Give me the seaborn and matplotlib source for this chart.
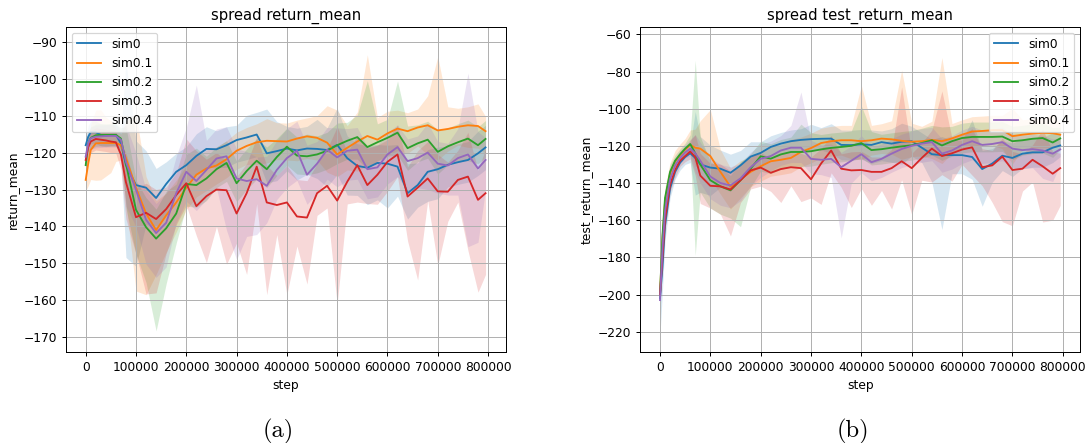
import matplotlib
matplotlib.use("Agg")
import matplotlib.pyplot as plt
import pandas as pd
import seaborn as sns

# ---------------- data ----------------
steps = [0, 5000, 10000, 20000, 30000, 40000, 50000, 60000, 70000, 80000,
         100000, 120000, 140000, 160000, 180000, 200000, 220000, 240000, 260000, 280000,
         300000, 320000, 340000, 360000, 380000, 400000, 420000, 440000, 460000, 480000,
         500000, 520000, 540000, 560000, 580000, 600000, 620000, 640000, 660000, 680000,
         700000, 720000, 740000, 760000, 780000, 795000]

sims = ["sim0", "sim0.1", "sim0.2", "sim0.3", "sim0.4"]

# panel (a): return_mean  (mean curve, band distance below, band distance above)
a_sim0 = [-118, -115.7, -114.5, -114.5, -115.2, -115.4, -115.2, -115.2, -117.5, -123.4,
          -128.8, -129.5, -132.3, -128.5, -125.2, -123.4, -120.9, -119, -119.1, -118,
          -116.6, -115.9, -115.1, -120.2, -119.6, -118.9, -119.4, -118.9, -119, -119.3,
          -117.9, -121.5, -123.6, -124.1, -122.8, -123, -123.8, -131, -128.8, -125.2,
          -124.5, -123.3, -122.6, -122, -120.2, -118.6]
a_sim1 = [-127.4, -123, -119.3, -117.5, -117.4, -117.4, -117.4, -117.4, -118, -121.5,
          -129.5, -136.5, -141, -137, -133.5, -129.5, -126, -124.3, -123.5, -121.8,
          -119.5, -118.2, -117.2, -116.8, -116.9, -117, -116.2, -115.6, -116, -117.3,
          -120.5, -118.7, -117, -115.5, -116.5, -114.8, -113.5, -114.2, -113.2, -112.6,
          -114, -113.6, -113, -112.6, -112.8, -114.2]
a_sim2 = [-123.4, -117.5, -116, -115.3, -115.2, -115.2, -115.2, -115.2, -116.2, -123,
          -135.5, -140.2, -143.3, -140.5, -136.5, -128.5, -128.8, -127, -124.5, -122.8,
          -128.3, -125, -122.2, -124.5, -121.2, -118.4, -120.8, -121, -120.5, -119.5,
          -118, -116.8, -115.8, -118.5, -117.2, -116, -114.6, -118.8, -117.5, -116.5,
          -119.8, -118.3, -117.2, -116.2, -118, -116.3]
a_sim3 = [-122, -118.5, -117, -116.3, -116.5, -116.7, -117, -117.2, -120.5, -128,
          -137.5, -136.3, -138, -135.3, -131.5, -128.3, -134.5, -131.8, -130, -130.2,
          -136.5, -131, -123.8, -133.5, -134.2, -133.5, -137.3, -137.6, -131, -129,
          -133, -127.9, -123.4, -128.8, -126, -122.5, -120.5, -131.9, -129.5, -127,
          -130.5, -130.6, -127.4, -126.5, -132.8, -131]
a_sim4 = [-121.1, -117.5, -116.1, -115.7, -115.6, -115.5, -115.5, -115.5, -116.5, -122.5,
          -130.1, -138.2, -141.8, -139, -131, -125.2, -127.7, -124.7, -121.6, -121,
          -127, -127.7, -127.2, -129, -124.7, -121.5, -119.5, -126, -123, -119.2,
          -121.3, -119.5, -119.2, -124.5, -124, -120.5, -118.5, -122.3, -121.5, -120,
          -123, -123.5, -121.5, -120.5, -124.3, -122]

a0_lo = [2, 3, 3, 3, 3, 3, 3, 3, 4, 25, 22, 10, 8, 8, 6, 5, 5, 5, 5, 6, 6, 6, 6, 8, 8, 6, 8, 7, 8, 10,
         8, 10, 8, 10, 10, 12, 8, 7, 6, 8, 8, 6, 6, 6, 6, 6]
a0_hi = [2, 3, 3, 3, 3, 3, 3, 3, 3, 28, 12, 10, 8, 6, 5, 5, 6, 6, 5, 5, 4, 6, 6, 12, 8, 6, 6, 6, 8, 6,
         10, 6, 6, 6, 5, 5, 6, 8, 6, 6, 6, 5, 5, 5, 6, 6]
a1_lo = [3, 6, 8, 10, 10, 9, 8, 5, 4, 12, 28, 22, 12, 10, 8, 6, 6, 6, 5, 5, 5, 5, 6, 6, 5, 5, 6, 6, 6, 8,
         6, 6, 8, 8, 6, 6, 6, 6, 5, 8, 8, 6, 5, 6, 6, 6]
a1_hi = [3, 5, 7, 9, 9, 7, 6, 4, 3, 10, 20, 10, 8, 6, 6, 6, 5, 5, 5, 5, 5, 5, 5, 6, 5, 5, 5, 5, 6, 10,
         12, 6, 8, 22, 6, 6, 5, 5, 5, 8, 20, 6, 5, 5, 6, 4]
a2_lo = [3, 3, 3, 3, 3, 3, 3, 3, 3, 12, 12, 15, 25, 15, 8, 6, 6, 6, 5, 5, 5, 5, 5, 5, 5, 5, 5, 5, 5, 5,
         5, 5, 6, 6, 5, 5, 6, 6, 5, 5, 6, 5, 5, 6, 5, 5]
a2_hi = [2, 3, 3, 3, 3, 3, 3, 3, 3, 10, 8, 8, 8, 10, 8, 8, 10, 6, 6, 6, 6, 6, 6, 6, 5, 5, 5, 6, 5, 5,
         6, 5, 6, 18, 5, 5, 14, 6, 5, 5, 6, 5, 5, 5, 5, 5]
a3_lo = [3, 3, 3, 3, 3, 3, 3, 3, 4, 10, 10, 22, 20, 12, 8, 6, 8, 18, 10, 20, 8, 22, 10, 25, 8, 25, 8, 18, 6, 6,
         28, 6, 10, 5, 8, 8, 6, 12, 25, 6, 20, 8, 6, 20, 25, 22]
a3_hi = [3, 3, 3, 3, 3, 3, 3, 3, 3, 8, 8, 8, 8, 6, 6, 12, 15, 10, 10, 8, 10, 8, 8, 10, 8, 10, 10, 10, 8, 10,
         20, 8, 8, 10, 8, 6, 8, 8, 10, 10, 10, 8, 8, 12, 8, 12]
a4_lo = [3, 3, 3, 3, 3, 3, 3, 3, 3, 12, 10, 12, 12, 12, 8, 8, 8, 8, 8, 20, 22, 15, 15, 10, 8, 8, 8, 8, 8, 8,
         8, 8, 8, 8, 8, 8, 8, 8, 8, 10, 8, 8, 10, 25, 20, 8]
a4_hi = [3, 3, 3, 3, 3, 3, 3, 3, 3, 10, 10, 8, 8, 8, 10, 12, 26, 8, 8, 8, 8, 8, 6, 8, 8, 8, 8, 8, 6, 6,
         8, 6, 6, 6, 6, 6, 6, 6, 6, 8, 6, 6, 8, 22, 10, 6]

# panel (b): test_return_mean
b_sim0 = [-202, -185, -163, -143, -134, -129, -126, -124, -126.5, -130,
          -131.7, -132.3, -134.5, -130.5, -125.8, -123.8, -120.6, -118.8, -117.5, -116.8,
          -116.4, -116.2, -116.1, -119.5, -119.6, -119.2, -119.5, -118, -118.8, -117.8,
          -117.5, -121, -124.5, -125, -125, -125, -126, -132.5, -129.5, -125.3,
          -126.5, -124.2, -123.5, -123.5, -121, -119.8]
b_sim1 = [-200, -170, -150, -135, -128.5, -125, -122, -119.5, -121, -121.5,
          -125.5, -134, -142, -138, -134, -131, -128.3, -127.5, -126.5, -123.3,
          -121.2, -118.5, -117.5, -117, -117, -117.5, -117, -116.1, -116.5, -117.3,
          -117.8, -117.5, -116.8, -117.5, -116, -114, -112.3, -112, -111.6, -111.6,
          -114.8, -114, -113.4, -113, -113.2, -114]
b_sim2 = [-200, -168, -148, -134, -128, -124.5, -121.5, -119, -124, -130,
          -138.5, -141.8, -143.9, -138.5, -132.3, -125.6, -126.9, -124.6, -123.3, -123.3,
          -122.9, -121.9, -121.1, -120.6, -120, -118.5, -122.3, -121.8, -121, -120.3,
          -119.7, -118.5, -117, -119.8, -117.5, -115.8, -115.2, -115.2, -115.2, -115,
          -117.5, -117, -116.2, -115.8, -118.2, -116]
b_sim3 = [-200, -180, -160, -141, -133, -128, -125.5, -123, -126, -136,
          -141.5, -141.8, -143.5, -138.5, -133.2, -131.7, -134.5, -132.5, -131.5, -132,
          -138, -129.5, -122.5, -132.3, -133.2, -133, -134, -134, -132, -128.3,
          -132, -126.5, -121.5, -125.5, -124, -122, -120.8, -131.5, -130.5, -125.8,
          -133, -132.3, -127.5, -131, -135, -132]
b_sim4 = [-203, -175, -155, -138, -130.5, -126.5, -123.5, -121.5, -124, -128,
          -136.5, -140, -141.3, -137.5, -131.5, -127, -125.5, -122.5, -121, -121,
          -127, -127.5, -127, -131.5, -128, -124.5, -128.8, -127, -124.2, -121.7,
          -120, -118.8, -118, -124.2, -122.5, -119.5, -117.5, -119.5, -119, -118,
          -121.5, -122.3, -121.8, -122.5, -124.2, -121.9]

b0_lo = [20, 12, 8, 5, 4, 4, 4, 5, 20, 15, 15, 10, 10, 8, 8, 8, 6, 6, 6, 6, 6, 6, 8, 8, 8, 8, 10, 10, 10, 12,
         8, 8, 15, 40, 10, 10, 12, 20, 10, 8, 10, 8, 8, 8, 8, 6]
b0_hi = [5, 5, 5, 4, 4, 3, 3, 4, 25, 15, 12, 10, 10, 8, 8, 6, 6, 6, 6, 6, 8, 6, 8, 8, 8, 8, 8, 6, 8, 10,
         8, 8, 8, 10, 8, 8, 20, 10, 8, 8, 8, 8, 8, 8, 8, 6]
b1_lo = [5, 6, 5, 4, 4, 3, 3, 4, 10, 10, 12, 12, 12, 10, 8, 8, 8, 8, 8, 8, 8, 8, 8, 8, 10, 10, 8, 8, 8, 10,
         8, 8, 10, 12, 8, 8, 8, 8, 8, 10, 15, 8, 8, 8, 8, 6]
b1_hi = [5, 8, 8, 6, 6, 6, 6, 8, 10, 15, 25, 12, 10, 10, 8, 8, 8, 8, 10, 8, 8, 8, 8, 8, 8, 30, 8, 8, 10, 38,
         10, 8, 10, 45, 8, 8, 8, 8, 8, 8, 15, 8, 8, 8, 10, 6]
b2_lo = [5, 5, 4, 4, 3, 3, 3, 4, 55, 15, 15, 15, 15, 25, 10, 8, 8, 8, 8, 8, 8, 8, 8, 8, 8, 8, 8, 8, 8, 8,
         8, 8, 8, 8, 8, 8, 8, 8, 8, 8, 10, 8, 8, 8, 8, 6]
b2_hi = [5, 5, 4, 4, 3, 3, 3, 5, 50, 15, 10, 10, 8, 10, 8, 8, 8, 8, 8, 15, 10, 8, 8, 8, 8, 20, 10, 8, 8, 8,
         8, 8, 8, 10, 8, 8, 8, 8, 8, 8, 8, 8, 8, 8, 8, 6]
b3_lo = [5, 6, 5, 4, 4, 3, 3, 4, 10, 15, 12, 15, 25, 12, 10, 10, 10, 18, 10, 18, 10, 22, 12, 10, 20, 10, 18, 10, 22, 10,
         25, 12, 18, 10, 15, 8, 15, 10, 20, 35, 30, 12, 12, 30, 25, 20]
b3_hi = [5, 6, 5, 4, 4, 4, 4, 6, 12, 12, 12, 12, 10, 8, 8, 8, 8, 8, 8, 8, 12, 8, 8, 8, 10, 10, 8, 8, 10, 40,
         8, 8, 10, 35, 8, 8, 10, 10, 8, 10, 10, 8, 8, 20, 12, 8]
b4_lo = [8, 6, 5, 4, 4, 3, 3, 4, 10, 12, 12, 12, 12, 12, 10, 10, 8, 8, 8, 8, 8, 8, 10, 38, 12, 10, 10, 10, 10, 10,
         10, 10, 10, 10, 10, 10, 10, 10, 10, 10, 10, 10, 10, 15, 15, 8]
b4_hi = [5, 5, 5, 4, 4, 4, 4, 5, 10, 10, 10, 10, 10, 8, 8, 8, 8, 8, 12, 30, 10, 8, 8, 8, 8, 10, 8, 8, 8, 8,
         8, 8, 8, 8, 8, 8, 8, 8, 8, 8, 8, 8, 8, 8, 8, 6]

a_means = [a_sim0, a_sim1, a_sim2, a_sim3, a_sim4]
a_lows = [a0_lo, a1_lo, a2_lo, a3_lo, a4_lo]
a_highs = [a0_hi, a1_hi, a2_hi, a3_hi, a4_hi]
b_means = [b_sim0, b_sim1, b_sim2, b_sim3, b_sim4]
b_lows = [b0_lo, b1_lo, b2_lo, b3_lo, b4_lo]
b_highs = [b0_hi, b1_hi, b2_hi, b3_hi, b4_hi]

for grp in (a_means, a_lows, a_highs, b_means, b_lows, b_highs):
    for arr in grp:
        assert len(arr) == len(steps), len(arr)

colors = ["#1f77b4", "#ff7f0e", "#2ca02c", "#d62728", "#9467bd"]


def long_frame(means, lows, highs):
    rows = []
    for name, m, dl, dh in zip(sims, means, lows, highs):
        for s, mv, a, b in zip(steps, m, dl, dh):
            rows.append((s, name, mv - a))
            rows.append((s, name, mv))
            rows.append((s, name, mv + b))
    return pd.DataFrame(rows, columns=["step", "sim", "value"])


df_a = long_frame(a_means, a_lows, a_highs)
df_b = long_frame(b_means, b_lows, b_highs)

# ---------------- figure ----------------
DPI = 88.5
fig = plt.figure(figsize=(1086 / DPI, 443 / DPI), dpi=DPI)
ax_a = fig.add_axes([0.0605, 0.2047, 0.4050, 0.7350])
ax_b = fig.add_axes([0.5893, 0.2047, 0.4054, 0.7350])

panels = [
    (ax_a, df_a, "spread return_mean", "return_mean", (-174.1, -85.9), range(-170, -85, 10), "upper left"),
    (ax_b, df_b, "spread test_return_mean", "test_return_mean", (-231.1, -55.9), range(-220, -55, 20), "upper right"),
]

for ax, df, title, ylabel, ylim, yticks, loc in panels:
    sns.lineplot(data=df, x="step", y="value", hue="sim", hue_order=sims,
                 palette=colors, estimator="median", errorbar=("pi", 100),
                 err_kws={"alpha": 0.18, "linewidth": 0}, ax=ax)
    ax.grid(True)
    ax.set_xlim(-39750, 834750)
    ax.set_ylim(*ylim)
    ax.set_xticks(range(0, 800001, 100000))
    ax.set_yticks(list(yticks))
    ax.set_title(title)
    ax.set_xlabel("step")
    ax.set_ylabel(ylabel)
    leg = ax.get_legend()
    handles = leg.legend_handles
    labels = [t.get_text() for t in leg.texts]
    ax.legend(handles, labels, loc=loc)

fig.text(0.256, 0.027, "(a)", family="cmr10", fontsize=20, ha="center", va="center")
fig.text(0.785, 0.027, "(b)", family="cmr10", fontsize=20, ha="center", va="center")

fig.savefig("out.png", dpi=DPI)
